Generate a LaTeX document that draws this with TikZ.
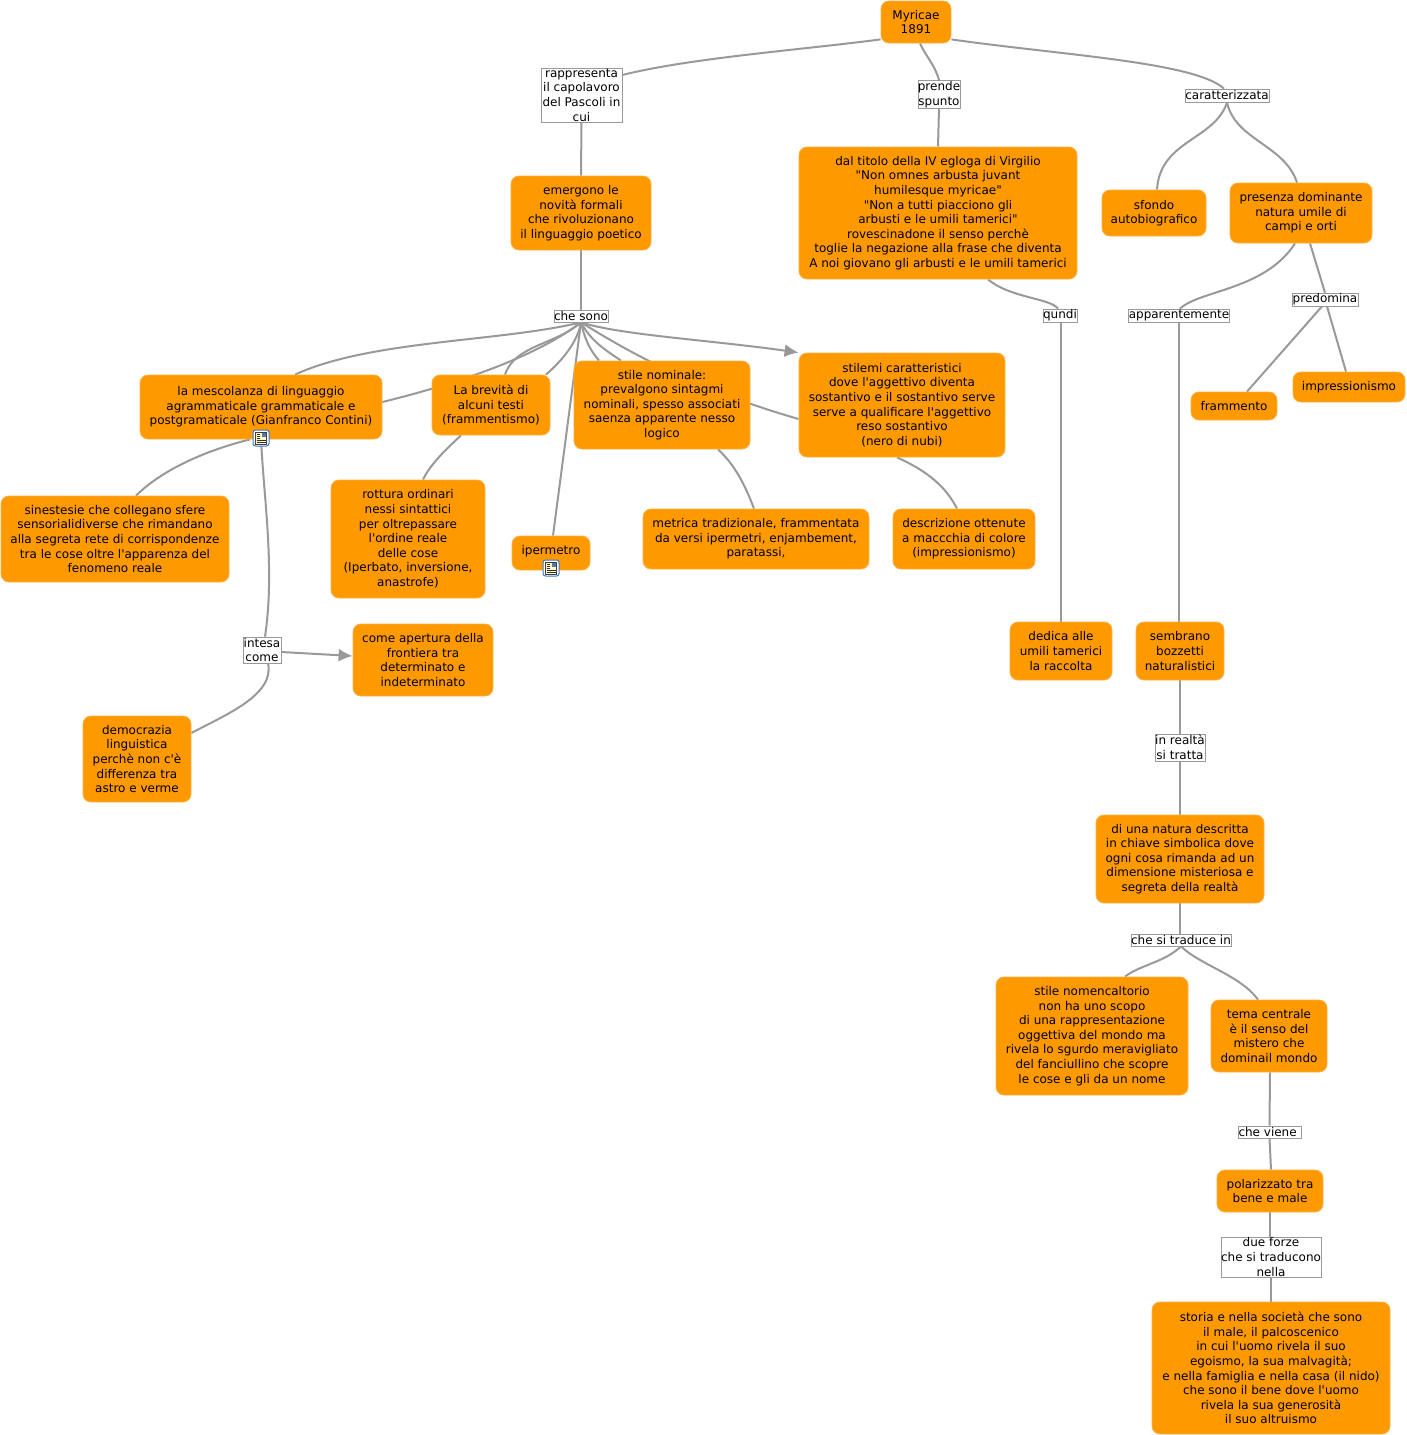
\documentclass[tikz,border=0pt]{standalone}
\usepackage{fontspec}
\newfontfamily\mapfont{DejaVu Sans}
\usetikzlibrary{arrows.meta,backgrounds}
\definecolor{conceptfill}{HTML}{FF9900}
\definecolor{conceptline}{HTML}{FFB040}
\definecolor{linkgray}{HTML}{999999}
\definecolor{iconblue}{HTML}{3C78C8}
\definecolor{iconpage}{HTML}{FFF8C8}
\tikzset{
  concept/.style 2 args={draw=conceptline, line width=0.8pt, fill=conceptfill, rounded corners=8pt,
    inner sep=0pt, align=center, minimum width=#1pt, minimum height=#2pt,
    font=\mapfont\fontsize{12}{14.6}\selectfont},
  tag/.style 2 args={draw=linkgray, line width=0.7pt, fill=white,
    inner sep=0pt, align=center, minimum width=#1pt, minimum height=#2pt,
    font=\mapfont\fontsize{12}{14.6}\selectfont},
  link/.style={draw=linkgray, line width=2pt},
  linkarrow/.style={link, -{Latex[length=14pt,width=13pt]}},
  noteicon/.pic={
    \draw[draw=iconblue, line width=1pt, fill=white, rounded corners=2.5pt] (-8,-8) rectangle (8,8);
    \fill[iconpage] (-5.5,-6) rectangle (5.5,6);
    \draw[black!75, line width=0.5pt] (-5.5,-6) rectangle (5.5,6);
    \fill[iconblue!70!gray] (0.5,-5) rectangle (4.5,-1);
    \foreach \ly in {-4,-2,0} {\draw[black!80, line width=0.7pt] (-4.5,\ly) -- (-1,\ly);}
    \foreach \ly in {2,4} {\draw[black!80, line width=0.7pt] (-4.5,\ly) -- (4.5,\ly);}
  }
}
\begin{document}
\begin{tikzpicture}[x=1pt, y=-1pt]
    \useasboundingbox (0,0) rectangle (1407,1435);

    % Riga alta
    \node[concept={70}{42}] (myricae) at (916,22) {Myricae\\1891};
    \node[tag={81}{54}] (rappresenta) at (581.5,95) {rappresenta\\il capolavoro\\del Pascoli in\\cui};
    \node[tag={42}{28}] (spunto) at (939,94.5) {prende\\spunto};
    \node[tag={84}{13}] (caratt) at (1227,95.5) {caratterizzata};
    \node[concept={140}{74}] (emergono) at (581,213) {emergono le\\novità formali\\che rivoluzionano\\il linguaggio poetico};
    \node[concept={278}{132}] (titolo) at (938,213) {dal titolo della IV egloga di Virgilio\\"Non omnes arbusta juvant\\humilesque myricae"\\"Non a tutti piacciono gli\\arbusti e le umili tamerici"\\rovescinadone il senso perchè\\toglie la negazione alla frase che diventa\\A noi giovano gli arbusti e le umili tamerici};
    \node[concept={104}{46}] (sfondo) at (1154,213) {sfondo\\autobiografico};
    \node[concept={142}{60}] (presenza) at (1301,213) {presenza dominante\\natura umile di\\campi e orti};

    % Parole di collegamento
    \node[tag={54}{12}] (chesono) at (581,316) {che sono};
    \node[tag={34}{13}] (qundi) at (1060,315.5) {qundi};
    \node[tag={100}{13}] (appar) at (1179,315.5) {apparentemente};
    \node[tag={66}{13}] (predomina) at (1325,299.5) {predomina};

    % Blocco centrale
    \node[concept={86}{28}] (frammento) at (1234,406) {frammento};
    \node[concept={112}{30}] (impress) at (1349,387) {impressionismo};
    \node[concept={242}{64}] (mescolanza) at (261,407) {la mescolanza di linguaggio\\agrammaticale grammaticale e\\postgramaticale (Gianfranco Contini)};
    \node[concept={118}{60}] (brevita) at (491,405) {La brevità di\\alcuni testi\\(frammentismo)};
    \node[concept={176}{88}] (nominale) at (662,405) {stile nominale:\\prevalgono sintagmi\\nominali, spesso associati\\saenza apparente nesso\\logico};
    \node[concept={206}{104}] (stilemi) at (902,405) {stilemi caratteristici\\dove l'aggettivo diventa\\sostantivo e il sostantivo serve\\serve a qualificare l'aggettivo\\reso sostantivo\\(nero di nubi)};
    \node[concept={228}{86}] (sinestesie) at (115,539) {sinestesie che collegano sfere\\sensorialidiverse che rimandano\\alla segreta rete di corrispondenze\\tra le cose oltre l'apparenza del\\fenomeno reale};
    \node[concept={154}{118}] (rottura) at (408,539) {rottura ordinari\\nessi sintattici\\per oltrepassare\\l'ordine reale\\delle cose\\(Iperbato, inversione,\\anastrofe)};
    \node[concept={78}{34}, text depth=6pt] (ipermetro) at (551,553) {ipermetro};
    \node[concept={226}{60}] (metrica) at (756,539) {metrica tradizionale, frammentata\\da versi ipermetri, enjambement,\\paratassi,};
    \node[concept={142}{60}] (descrizione) at (964,539) {descrizione ottenute\\a maccchia di colore\\(impressionismo)};
    \node[concept={102}{58}] (dedica) at (1061,651) {dedica alle\\umili tamerici\\la raccolta};
    \node[concept={88}{58}] (bozzetti) at (1180,651) {sembrano\\bozzetti\\naturalistici};
    \node[tag={38}{26}] (intesa) at (262,650) {intesa\\come};
    \node[concept={140}{72}] (apertura) at (423,660) {come apertura della\\frontiera tra\\determinato e\\indeterminato};
    \node[concept={108}{86}] (democrazia) at (137,759) {democrazia\\linguistica\\perchè non c'è\\differenza tra\\astro e verme};

    % Colonna di destra
    \node[tag={50}{27}] (realta) at (1180,747.5) {in realtà\\si tratta};
    \node[concept={168}{88}] (natura) at (1180,859) {di una natura descritta\\in chiave simbolica dove\\ogni cosa rimanda ad un\\dimensione misteriosa e\\segreta della realtà};
    \node[tag={100}{12}] (traduce) at (1181,940) {che si traduce in};
    \node[concept={192}{118}] (nomen) at (1092,1036) {stile nomencaltorio\\non ha uno scopo\\di una rappresentazione\\oggettiva del mondo ma\\rivela lo sgurdo meravigliato\\del fanciullino che scopre\\le cose e gli da un nome};
    \node[concept={116}{72}] (tema) at (1269,1036) {tema centrale\\è il senso del\\mistero che\\dominail mondo};
    \node[tag={63}{12}] (viene) at (1269.5,1132) {che viene\ };
    \node[concept={106}{42}] (polarizzato) at (1270,1191) {polarizzato tra\\bene e male};
    \node[tag={100}{40}] (forze) at (1271,1257) {due forze\\che si traducono\\nella};
    \node[concept={238}{132}] (storia) at (1271,1368) {storia e nella società che sono\\il male, il palcoscenico\\in cui l'uomo rivela il suo\\egoismo, la sua malvagità;\\e nella famiglia e nella casa (il nido)\\che sono il bene dove l'uomo\\rivela la sua generosità\\il suo altruismo};

    % Icone
    \pic at (261,438) {noteicon};
    \pic at (551,568) {noteicon};

    \begin{scope}[on background layer]
        % Dal titolo
        \draw[link] ([yshift=4pt]myricae.south west) .. controls (800,50) and (690,58) .. ([yshift=20pt]rappresenta.east);
        \draw[link] ([xshift=4pt]myricae.south) .. controls (925,55) and (935,65) .. (spunto.north);
        \draw[link] ([yshift=4pt]myricae.south east) .. controls (1060,55) and (1195,62) .. ([xshift=-3pt]caratt.north);
        \draw[link] (rappresenta.south) -- (emergono.north);
        \draw[link] (spunto.south) -- (titolo.north);
        \draw[link] (caratt.south) .. controls (1215,140) and (1160,140) .. ([xshift=3pt]sfondo.north);
        \draw[link] (caratt.south) .. controls (1235,140) and (1285,145) .. ([xshift=-4pt]presenza.north);
        \draw[link] (emergono.south) -- (chesono.north);

        % Ventaglio di "che sono"
        \draw[link] (chesono.south) .. controls (500,342) and (370,340) .. ([xshift=34pt]mescolanza.north);
        \draw[link] (chesono.south) .. controls (555,345) and (515,345) .. ([xshift=14pt]brevita.north);
        \draw[link] (chesono.south) .. controls (545,350) and (480,378) .. ([yshift=5pt]mescolanza.east);
        \draw[link] (chesono.south) .. controls (578,340) and (565,358) .. ([xshift=55pt]brevita.north);
        \draw[link] (chesono.south) -- ([xshift=2pt]ipermetro.north);
        \draw[link] (chesono.south) .. controls (585,340) and (590,350) .. ([xshift=-63pt]nominale.north);
        \draw[link] (chesono.south) .. controls (590,340) and (605,350) .. ([xshift=-41pt]nominale.north);
        \draw[link] (chesono.south) .. controls (610,340) and (680,385) .. ([yshift=-14pt]stilemi.west);
        \draw[linkarrow] (chesono.south) .. controls (620,335) and (710,340) .. (stilemi.north west);

        % Parte sinistra
        \draw[link] ([xshift=-11pt]mescolanza.south) .. controls (200,452) and (160,472) .. ([xshift=21pt]sinestesie.north);
        \draw[link] (mescolanza.south) .. controls (264,500) and (275,570) .. ([xshift=3pt]intesa.north);
        \draw[linkarrow] ([yshift=-2pt]intesa.east) -- ([yshift=4pt]apertura.west);
        \draw[link] ([xshift=6pt]intesa.south) .. controls (275,695) and (225,715) .. ([yshift=26pt]democrazia.east);
        \draw[link] ([xshift=-30pt]brevita.south) .. controls (445,450) and (430,465) .. ([xshift=15pt]rottura.north);
        \draw[link] ([xshift=56pt]nominale.south) .. controls (735,465) and (745,485) .. ([xshift=-2pt]metrica.north);
        \draw[link] ([xshift=-5pt]stilemi.south) .. controls (925,470) and (945,485) .. ([xshift=-7pt]descrizione.north);

        % Parte destra
        \draw[link] ([xshift=50pt]titolo.south) .. controls (1010,298) and (1050,298) .. ([xshift=-2pt]qundi.north);
        \draw[link] ([xshift=1pt]qundi.south) -- (dedica.north);
        \draw[link] ([xshift=-6pt]presenza.south) .. controls (1265,290) and (1200,290) .. ([xshift=1pt]appar.north);
        \draw[link] (appar.south) -- ([xshift=-1pt]bozzetti.north);
        \draw[link] ([xshift=9pt]presenza.south) -- (predomina.north);
        \draw[link] ([xshift=-3pt]predomina.south) -- ([xshift=13pt]frammento.north);
        \draw[link] ([xshift=2pt]predomina.south) -- ([xshift=-3pt]impress.north);
        \draw[link] (bozzetti.south) -- (realta.north);
        \draw[link] (realta.south) -- (natura.north);
        \draw[link] (natura.south) -- ([xshift=-1pt]traduce.north);
        \draw[link] (traduce.south) .. controls (1165,962) and (1140,965) .. ([xshift=33pt]nomen.north);
        \draw[link] (traduce.south) .. controls (1200,965) and (1240,975) .. ([xshift=-11pt]tema.north);
        \draw[link] ([xshift=1pt]tema.south) -- (viene.north);
        \draw[link] (viene.south) -- ([xshift=1pt]polarizzato.north);
        \draw[link] (polarizzato.south) -- ([xshift=-1pt]forze.north);
        \draw[link] (forze.south) -- (storia.north);
    \end{scope}
\end{tikzpicture}
\end{document}
